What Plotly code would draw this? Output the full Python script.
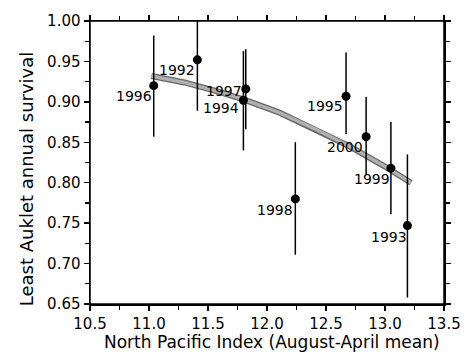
import plotly.graph_objects as go

# ---- data ----
years = ["1996", "1992", "1997", "1994", "1995", "2000", "1999", "1993", "1998"]
npi = [11.04, 11.41, 11.82, 11.80, 12.67, 12.84, 13.05, 13.19, 12.24]
survival = [0.920, 0.952, 0.916, 0.902, 0.907, 0.857, 0.818, 0.747, 0.780]
upper = [0.982, 1.015, 0.965, 0.963, 0.961, 0.906, 0.875, 0.835, 0.850]
lower = [0.857, 0.889, 0.866, 0.840, 0.860, 0.810, 0.761, 0.658, 0.711]

fit_x = [11.02, 11.30, 11.58, 11.80, 12.10, 12.40, 12.70, 13.00, 13.22]
fit_y = [0.932, 0.924, 0.913, 0.903, 0.887, 0.867, 0.845, 0.820, 0.800]

x_ticks = [10.5, 11.0, 11.5, 12.0, 12.5, 13.0, 13.5]
y_ticks = [0.65, 0.70, 0.75, 0.80, 0.85, 0.90, 0.95, 1.00]
x_range = [10.5, 13.5]
y_range = [0.65, 1.0]

# label offsets in pixels (style)
label_shift = {
    "1996": (-20, -10), "1992": (-20, -10), "1997": (-22, -2), "1994": (-22, -7.5),
    "1995": (-21, -9.5), "2000": (-21.5, -10), "1999": (-19, -10.5),
    "1993": (-18.5, -11.5), "1998": (-20.5, -11.5),
}

FONT = "DejaVu Sans"

fig = go.Figure()
fig.add_trace(go.Scatter(x=fit_x, y=fit_y, mode="lines",
                         line=dict(color="#666666", width=6), hoverinfo="skip"))
fig.add_trace(go.Scatter(x=fit_x, y=fit_y, mode="lines",
                         line=dict(color="#b0b0b0", width=3.5), hoverinfo="skip"))
fig.add_trace(go.Scatter(
    x=npi, y=survival, mode="markers",
    marker=dict(color="black", size=9),
    error_y=dict(type="data", symmetric=False,
                 array=[u - s for u, s in zip(upper, survival)],
                 arrayminus=[s - l for s, l in zip(survival, lower)],
                 thickness=1.5, width=0, color="black"),
))

for yr, xv, yv in zip(years, npi, survival):
    dx, dy = label_shift[yr]
    fig.add_annotation(x=xv, y=yv, text=yr, showarrow=False,
                       xanchor="center", yanchor="middle",
                       xshift=dx, yshift=dy,
                       font=dict(family=FONT, size=14, color="black"))

fig.add_annotation(xref="paper", yref="paper", x=0.515, y=0, yshift=-38,
                   text="North Pacific Index (August-April mean)", showarrow=False,
                   xanchor="center", yanchor="middle",
                   font=dict(family=FONT, size=17, color="black"))
fig.add_annotation(xref="paper", yref="paper", x=0, xshift=-64, y=0.441,
                   text="Least Auklet annual survival", showarrow=False, textangle=-90,
                   xanchor="center", yanchor="middle",
                   font=dict(family=FONT, size=18, color="black"))

# plot frame
fig.add_shape(type="rect", xref="paper", yref="paper", x0=0, y0=0, x1=1, y1=1,
              line=dict(color="black", width=1.5), layer="above")

axis_common = dict(showline=True, linewidth=1.5, linecolor="black", mirror="allticks",
                   ticks="outside", ticklen=5, tickwidth=1.3, tickcolor="black",
                   showgrid=False, zeroline=False,
                   tickfont=dict(family=FONT, size=15, color="black"))
x_minor = dict(dtick=0.25, tick0=10.5, ticks="outside", ticklen=4,
               tickwidth=1.3, tickcolor="black", showgrid=False)
y_minor = dict(dtick=0.025, tick0=0.65, ticks="outside", ticklen=4,
               tickwidth=1.3, tickcolor="black", showgrid=False)

fig.update_layout(
    width=473, height=355,
    margin=dict(l=90, r=22, t=14, b=51),
    paper_bgcolor="white", plot_bgcolor="white",
    showlegend=False,
    xaxis=dict(range=x_range, tickvals=x_ticks, ticktext=[f"{v:.1f}" for v in x_ticks],
               minor=x_minor, **axis_common),
    yaxis=dict(range=y_range, tickvals=y_ticks, ticktext=[f"{v:.2f}" for v in y_ticks],
               minor=y_minor, **axis_common),
)

fig.write_html("out.html", config={"displayModeBar": False, "staticPlot": True},
               post_script="document.body.style.margin='0';document.body.style.overflow='hidden';")
